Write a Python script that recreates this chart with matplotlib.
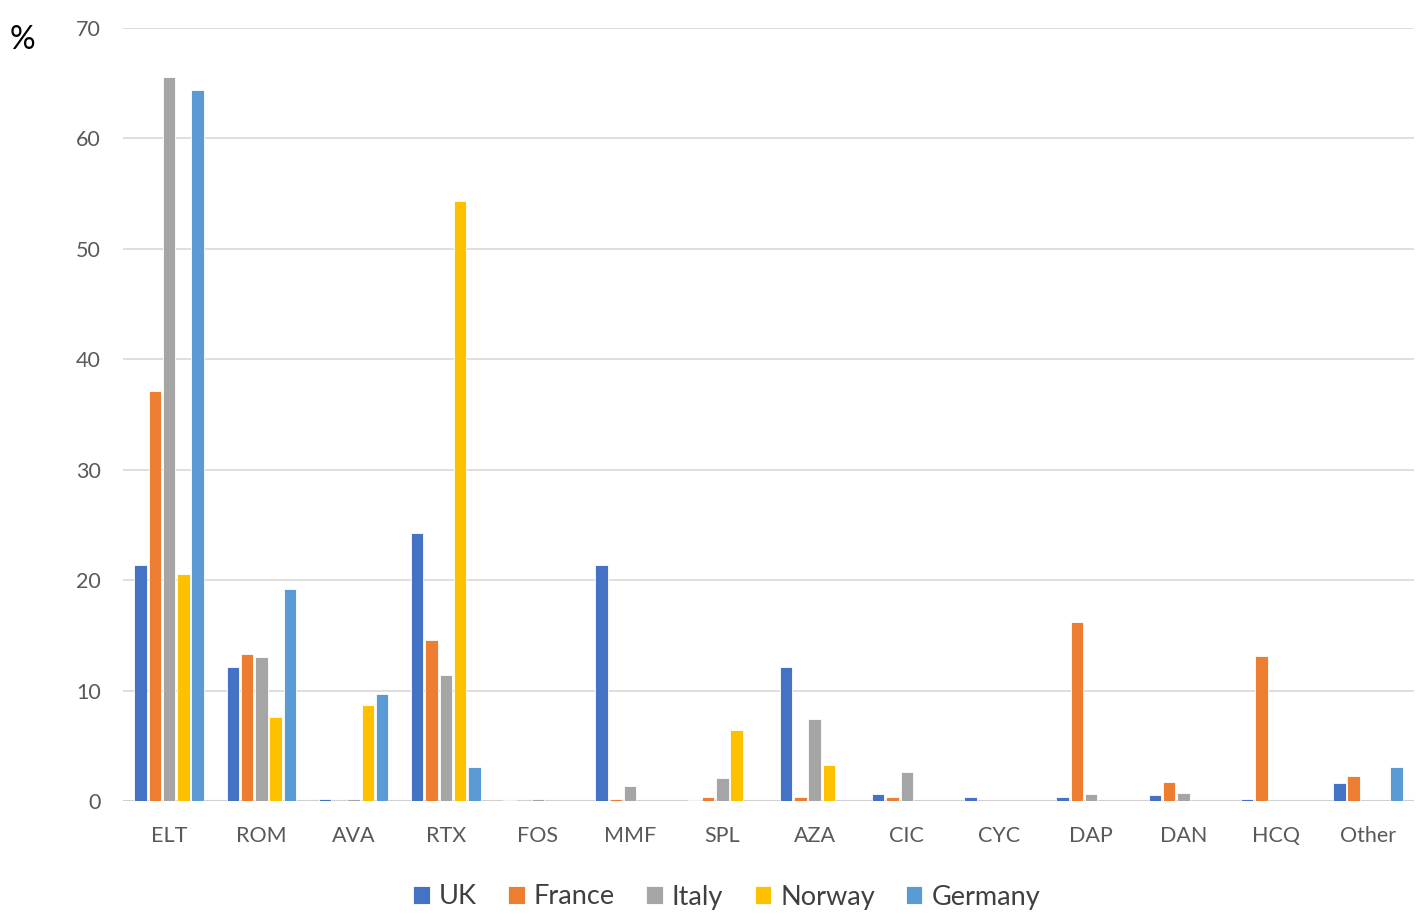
import matplotlib
matplotlib.use("Agg")
import matplotlib.pyplot as plt
import numpy as np

plt.rcParams["font.family"] = ["Lato", "DejaVu Sans"]

categories = ["ELT", "ROM", "AVA", "RTX", "FOS", "MMF", "SPL", "AZA", "CIC", "CYC", "DAP", "DAN", "HCQ", "Other"]
countries = ["UK", "France", "Italy", "Norway", "Germany"]
colors = ["#4472c4", "#ed7d31", "#a5a5a5", "#ffc000", "#5b9bd5"]

uk      = [21.4, 12.1, 0.2, 24.3, 0.1, 21.4, 0.1, 12.1, 0.6, 0.4, 0.4, 0.55, 0.2, 1.6]
france  = [37.1, 13.3, 0.0, 14.6, 0.0, 0.2, 0.4, 0.4, 0.4, 0.0, 16.2, 1.7, 13.1, 2.25]
italy   = [65.6, 13.0, 0.2, 11.4, 0.2, 1.4, 2.1, 7.45, 2.6, 0.0, 0.65, 0.75, 0.0, 0.0]
norway  = [20.6, 7.6, 8.7, 54.3, 0.0, 0.0, 6.45, 3.25, 0.0, 0.0, 0.0, 0.0, 0.0, 0.0]
germany = [64.4, 19.2, 9.7, 3.1, 0.0, 0.0, 0.0, 0.0, 0.0, 0.0, 0.0, 0.0, 0.0, 3.1]
series = [uk, france, italy, norway, germany]

fig = plt.figure(figsize=(14.28, 9.24), dpi=100)
ax = fig.add_axes([123/1428, 1-801/924, 1291/1428, 773/924])

x = np.arange(len(categories))
step = 0.155
for i, (name, vals) in enumerate(zip(countries, series)):
    ax.bar(x + (i - 2) * step, vals, width=0.135, color=colors[i], label=name,
           edgecolor="white", linewidth=0.6, zorder=3)

ax.set_xlim(-0.5, len(categories) - 0.5)
ax.set_ylim(0, 70)
ax.set_yticks(range(0, 71, 10))
ax.set_xticks(x)
ax.set_xticklabels(categories)
ax.tick_params(axis="both", length=0, labelsize=15.5, colors="#595959")
ax.tick_params(axis="x", pad=18)
ax.tick_params(axis="y", pad=16)
ax.yaxis.grid(True, color="#d9d9d9", linewidth=1.2, zorder=0)
ax.axhline(0, color="#d0d0d0", linewidth=1.5, zorder=2)
for s in ax.spines.values():
    s.set_visible(False)

fig.text(22/1428, 1-40/924, "%", fontsize=23, ha="center", va="center", color="black")

leg = fig.legend(loc="center", bbox_to_anchor=(727/1428, 1-897/924), ncol=5, frameon=False,
                 fontsize=19.5, handlelength=0.6, handleheight=0.6, handletextpad=0.35,
                 columnspacing=1.15)
for t in leg.get_texts():
    t.set_color("#404040")

fig.savefig("out.png", dpi=100)
